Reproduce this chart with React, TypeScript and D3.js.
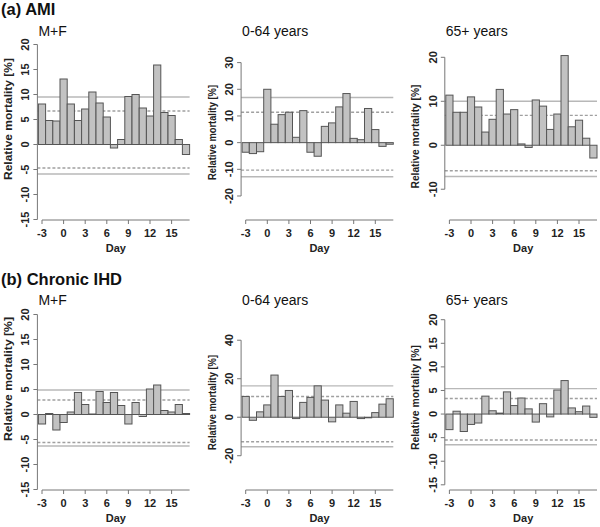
import React from "react";
import * as d3 from "d3";

const days = [-3, -2, -1, 0, 1, 2, 3, 4, 5, 6, 7, 8, 9, 10, 11, 12, 13, 14, 15, 16, 17];
const xTickDays = [-3, 0, 3, 6, 9, 12, 15];

const amiMF = [8.1, 4.8, 4.7, 13.1, 8.1, 4.8, 7.1, 10.5, 8.3, 5.5, -0.7, 1.0, 9.6, 10.0, 7.3, 5.7, 15.9, 6.4, 5.8, 1.0, -2.0];
const amiYoung = [-3.6, -4.1, -3.4, 20.0, 6.9, 10.5, 11.4, 2.0, 12.0, -3.6, -5.1, 6.1, 7.4, 13.4, 18.4, 1.6, 1.1, 12.8, 4.9, -1.4, -0.6];
const amiOld = [11.4, 7.5, 7.5, 11.0, 8.7, 3.0, 5.9, 12.7, 7.1, 8.1, 0.3, -0.5, 10.3, 8.9, 3.6, 7.1, 20.4, 4.2, 5.7, 1.6, -2.9];
const ihdMF = [-1.9, 0.2, -3.1, -1.6, 0.5, 4.4, 2.0, 0.1, 4.6, 2.4, 4.4, 1.8, -1.9, 2.4, -0.4, 5.1, 5.9, 0.8, 0.5, 2.0, 0.2];
const ihdYoung = [10.8, -1.6, 2.8, 6.4, 21.9, 10.8, 13.9, -0.7, 7.7, 10.3, 16.3, 8.9, -2.4, 6.4, 2.1, 8.2, -0.7, -0.3, 2.4, 6.8, 9.6];
const ihdOld = [-3.3, 0.6, -3.7, -2.2, -1.9, 3.8, 0.7, 0.2, 4.7, 1.8, 3.4, 1.1, -1.7, 2.2, -0.6, 5.1, 7.1, 1.3, 0.5, 1.7, -0.7];

// reference lines: [solid upper, dashed upper, dashed lower, solid lower]
const amiMFRef = [9.5, 6.7, -4.7, -5.9];
const amiYoungRef = [16.9, 11.4, -10.3, -12.8];
const amiOldRef = [10.0, 6.8, -5.8, -7.1];
const ihdMFRef = [4.9, 2.9, -5.6, -6.3];
const ihdYoungRef = [16.3, 10.8, -12.7, -15.3];
const ihdOldRef = [5.4, 3.3, -5.5, -6.5];

const ticks15 = [-15, -10, -5, 0, 5, 10, 15, 20];
const ticksYoungAmi = [-20, -10, 0, 10, 20, 30];
const ticksOldAmi = [-10, 0, 10, 20];
const ticksYoungIhd = [-20, 0, 20, 40];

const subtitles = ["M+F", "0-64 years", "65+ years"];
const sectionTitles = ["(a) AMI", "(b) Chronic IHD"];

type PanelDef = {
  values: number[];
  refs: number[];
  ticks: number[];
  yLim: [number, number];
  col: number;
  row: number;
  yLabLen: number;
  yLabCenter: number;
};

const panels: PanelDef[] = [
  { values: amiMF, refs: amiMFRef, ticks: ticks15, yLim: [-15.1, 19.9], col: 0, row: 0, yLabLen: 122, yLabCenter: 119 },
  { values: amiYoung, refs: amiYoungRef, ticks: ticksYoungAmi, yLim: [-29, 36.6], col: 1, row: 0, yLabLen: 95, yLabCenter: 132.5 },
  { values: amiOld, refs: amiOldRef, ticks: ticksOldAmi, yLim: [-17, 22.8], col: 2, row: 0, yLabLen: 104, yLabCenter: 136.5 },
  { values: ihdMF, refs: ihdMFRef, ticks: ticks15, yLim: [-15.1, 19.9], col: 0, row: 1, yLabLen: 124, yLabCenter: 379 },
  { values: ihdYoung, refs: ihdYoungRef, ticks: ticksYoungIhd, yLim: [-37.8, 53.1], col: 1, row: 1, yLabLen: 95, yLabCenter: 402.5 },
  { values: ihdOld, refs: ihdOldRef, ticks: ticks15, yLim: [-16.1, 21.0], col: 2, row: 1, yLabLen: 105, yLabCenter: 397.5 },
];

const colLeft = [38.4, 242.1, 445.8];
const rowBottom = [220, 490];
const plotH = 175;
const dayW = 7.2;

const FONT = "Liberation Sans, Arial, Helvetica, sans-serif";

function Panel({ p }: { p: PanelDef }) {
  const left = colLeft[p.col];
  const bottom = rowBottom[p.row];
  const x = d3.scaleLinear().domain([-3.5, 17.5]).range([left, left + 21 * dayW]);
  const y = d3.scaleLinear().domain(p.yLim).range([bottom, bottom - plotH]);
  const axisX = left - 1;
  const rightX = x(17.5);
  const refStyles = [
    { stroke: "#b8b8b8", dash: undefined },
    { stroke: "#a0a0a0", dash: "3,2" },
    { stroke: "#a0a0a0", dash: "3,2" },
    { stroke: "#b8b8b8", dash: undefined },
  ];
  const tMin = p.ticks[0];
  const tMax = p.ticks[p.ticks.length - 1];
  const dayCenter = (x(-3) + rightX) / 2;
  return (
    <g>
      {p.refs.map((r, i) => (
        <line
          key={"r" + i}
          x1={axisX}
          x2={rightX}
          y1={y(r)}
          y2={y(r)}
          stroke={refStyles[i].stroke}
          strokeWidth={1.4}
          strokeDasharray={refStyles[i].dash}
        />
      ))}
      {p.values.map((v, i) => {
        const d = days[i];
        const y0 = y(0);
        const yv = y(v);
        return (
          <rect
            key={"b" + i}
            x={x(d - 0.5)}
            width={dayW}
            y={Math.min(y0, yv)}
            height={Math.max(0.5, Math.abs(yv - y0))}
            fill="#c2c2c2"
            stroke="#555"
            strokeWidth={1}
          />
        );
      })}
      {/* y axis */}
      <line x1={axisX} x2={axisX} y1={y(tMin)} y2={y(tMax)} stroke="#777" strokeWidth={1} />
      {p.ticks.map((t) => (
        <g key={"yt" + t}>
          <line x1={axisX - 4} x2={axisX} y1={y(t)} y2={y(t)} stroke="#777" strokeWidth={1} />
          <text
            transform={`translate(${axisX - 8},${y(t)}) rotate(-90)`}
            textAnchor="middle"
            fontSize={11}
            fontFamily={FONT}
            fontWeight="bold"
            fill="#222"
          >
            {t}
          </text>
        </g>
      ))}
      {/* x axis */}
      <line x1={x(-3)} x2={rightX} y1={bottom} y2={bottom} stroke="#777" strokeWidth={1} />
      {xTickDays.map((t) => (
        <g key={"xt" + t}>
          <line x1={x(t)} x2={x(t)} y1={bottom} y2={bottom + 4} stroke="#777" strokeWidth={1} />
          <text x={x(t)} y={bottom + 17} textAnchor="middle" fontSize={11} fontFamily={FONT} fontWeight="bold" fill="#222">
            {t}
          </text>
        </g>
      ))}
      <text x={dayCenter} y={bottom + 32} textAnchor="middle" fontSize={11} fontFamily={FONT} fontWeight="bold" fill="#222">
        Day
      </text>
      <text
        transform={`translate(${axisX - 25.5},${p.yLabCenter}) rotate(-90)`}
        textAnchor="middle"
        fontSize={11}
        fontFamily={FONT}
        fontWeight="bold"
        fill="#222"
        textLength={p.yLabLen}
        lengthAdjust="spacingAndGlyphs"
      >
        Relative mortality [%]
      </text>
      <text x={axisX + 1} y={bottom - 184.5 + (p.row === 1 ? -1 : 0)} fontSize={14} fontFamily={FONT} fill="#111">
        {subtitles[p.col]}
      </text>
    </g>
  );
}

export default function App() {
  return (
    <svg
      width={600}
      height={527}
      style={{ position: "absolute", left: 0, top: 0, background: "#fff" }}
      xmlns="http://www.w3.org/2000/svg"
    >
      <rect x={0} y={0} width={600} height={527} fill="#fff" />
      <text x={1} y={14.5} fontSize={16.5} fontWeight="bold" fontFamily={FONT} fill="#111">
        {sectionTitles[0]}
      </text>
      <text x={1} y={284.5} fontSize={16.5} fontWeight="bold" fontFamily={FONT} fill="#111">
        {sectionTitles[1]}
      </text>
      {panels.map((p, i) => (
        <Panel key={i} p={p} />
      ))}
    </svg>
  );
}
